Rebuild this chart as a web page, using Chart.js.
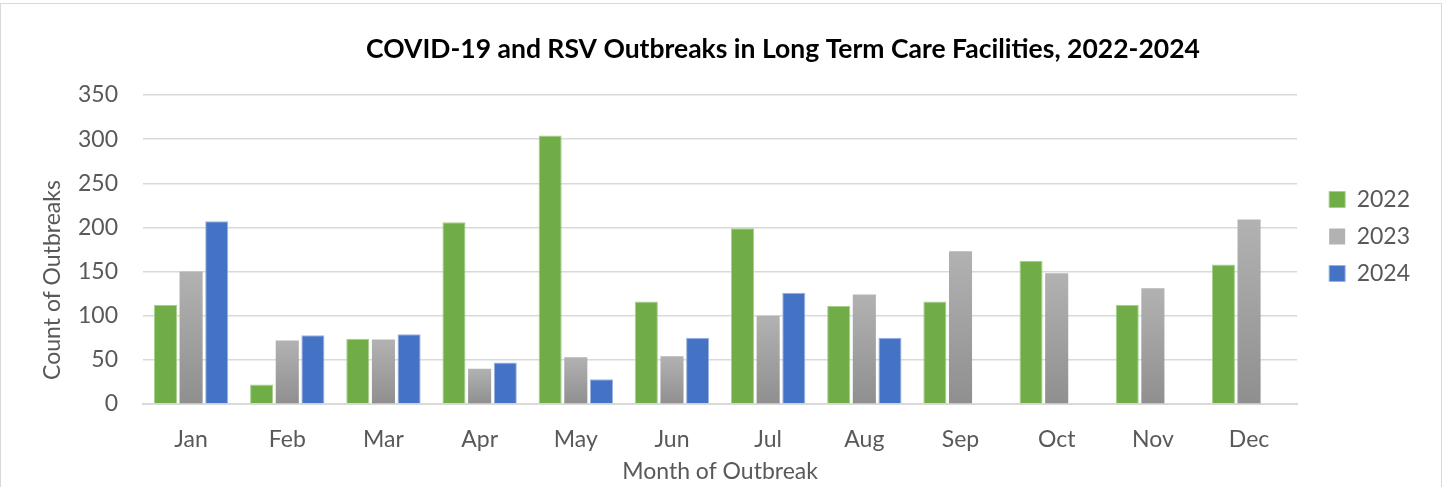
<!DOCTYPE html>
<html>
<head>
<meta charset="utf-8">
<script src="https://cdn.jsdelivr.net/npm/chart.js@4.4.1/dist/chart.umd.min.js"></script>
<style>
  html, body { margin: 0; padding: 0; background: #ffffff; overflow: hidden; }
  #wrap { position: relative; width: 1442px; height: 487px; }
  #frame { position: absolute; left: 0; top: 3px; width: 1442px; height: 500px; border: 1px solid #D9D9D9; box-sizing: border-box; }
  #c { position: absolute; left: 0; top: 0; }
</style>
</head>
<body>
<div id="wrap"><div id="frame"></div><canvas id="c" width="1442" height="487"></canvas></div>
<script>
// ---- data ----
const chartTitle = 'COVID-19 and RSV Outbreaks in Long Term Care Facilities, 2022-2024';
const xAxisTitle = 'Month of Outbreak';
const yAxisTitle = 'Count of Outbreaks';
const months = ['Jan', 'Feb', 'Mar', 'Apr', 'May', 'Jun', 'Jul', 'Aug', 'Sep', 'Oct', 'Nov', 'Dec'];
const seriesNames = ['2022', '2023', '2024'];
const values2022 = [112, 22, 74, 206, 304, 116, 199, 111, 116, 162, 112, 158];
const values2023 = [150, 72, 73, 40, 53, 54, 100, 124, 173, 148, 131, 209];
const values2024 = [207, 78, 79, 47, 28, 75, 126, 75, null, null, null, null];
const yTickValues = [0, 50, 100, 150, 200, 250, 300, 350];

// ---- style ----
const FONT = 'Lato';
const TEXT = '#595959';
const GRID = '#D9D9D9';

function grayGradient(c) {
  const fallback = '#A5A5A5';
  if (c.type !== 'data' || c.raw == null) return fallback;
  const ys = c.chart.scales && c.chart.scales.y;
  if (!ys) return fallback;
  const top = ys.getPixelForValue(c.raw);
  const bot = ys.getPixelForValue(0);
  if (!isFinite(top) || !isFinite(bot) || bot - top < 1) return fallback;
  const g = c.chart.ctx.createLinearGradient(0, top, 0, bot);
  g.addColorStop(0, '#B2B2B2');
  g.addColorStop(1, '#8F8F8F');
  return g;
}

// custom texts: chart title (offset to the right as in the reference) and y-axis title
const textPlugin = {
  id: 'textPlugin',
  afterDraw(chart) {
    const ctx = chart.ctx;
    ctx.save();
    ctx.fillStyle = '#000000';
    ctx.font = 'bold 26.5px ' + FONT;
    ctx.textAlign = 'center';
    ctx.textBaseline = 'alphabetic';
    ctx.fillText(chartTitle, 783, 58);
    ctx.restore();

    ctx.save();
    ctx.fillStyle = TEXT;
    ctx.font = '23px ' + FONT;
    ctx.textAlign = 'center';
    ctx.textBaseline = 'alphabetic';
    ctx.translate(60, 280);
    ctx.rotate(-Math.PI / 2);
    ctx.fillText(yAxisTitle, 0, 0);
    ctx.restore();
  }
};

// nudge legend into place
const legendShift = {
  id: 'legendShift',
  afterLayout(chart) {
    const lg = chart.legend;
    if (!lg) return;
    lg.left += 18;
    lg.right += 18;
    lg.top -= 13;
    lg.bottom -= 13;
  }
};

new Chart(document.getElementById('c'), {
  type: 'bar',
  data: {
    labels: months,
    datasets: [
      { label: seriesNames[0], data: values2022, backgroundColor: '#70AD47', borderColor: '#A6CF8B', borderWidth: 1 },
      { label: seriesNames[1], data: values2023, backgroundColor: grayGradient, borderColor: 'rgba(0,0,0,0)', borderWidth: 0 },
      { label: seriesNames[2], data: values2024, backgroundColor: '#4472C4', borderColor: '#9CB3DF', borderWidth: 1 }
    ]
  },
  options: {
    responsive: false,
    animation: false,
    events: [],
    layout: { padding: { top: 95, left: 0, right: 40, bottom: 0 } },
    datasets: { bar: { categoryPercentage: 0.8, barPercentage: 0.9 } },
    scales: {
      x: {
        grid: { display: false },
        border: { display: true, color: GRID, width: 2 },
        ticks: { color: TEXT, font: { family: FONT, size: 23 }, padding: 14, maxRotation: 0, autoSkip: false },
        title: { display: true, text: xAxisTitle, color: TEXT, font: { family: FONT, size: 23 }, padding: { top: 0, bottom: 2 } },
        afterFit(s) { s.height = 83; }
      },
      y: {
        min: 0,
        max: 350,
        afterBuildTicks(s) { s.ticks = yTickValues.map(v => ({ value: v })); },
        grid: { color: GRID, lineWidth: 1.5, drawTicks: false },
        border: { display: false },
        ticks: { color: TEXT, font: { family: FONT, size: 23 }, padding: 25 },
        title: { display: false },
        afterFit(s) { s.width = 143; }
      }
    },
    plugins: {
      title: { display: false },
      tooltip: { enabled: false },
      legend: {
        display: true,
        position: 'right',
        align: 'center',
        fullSize: false,
        labels: { color: TEXT, font: { family: FONT, size: 23 }, boxWidth: 16, boxHeight: 16, padding: 14 }
      }
    }
  },
  plugins: [textPlugin, legendShift]
});
</script>
</body>
</html>
